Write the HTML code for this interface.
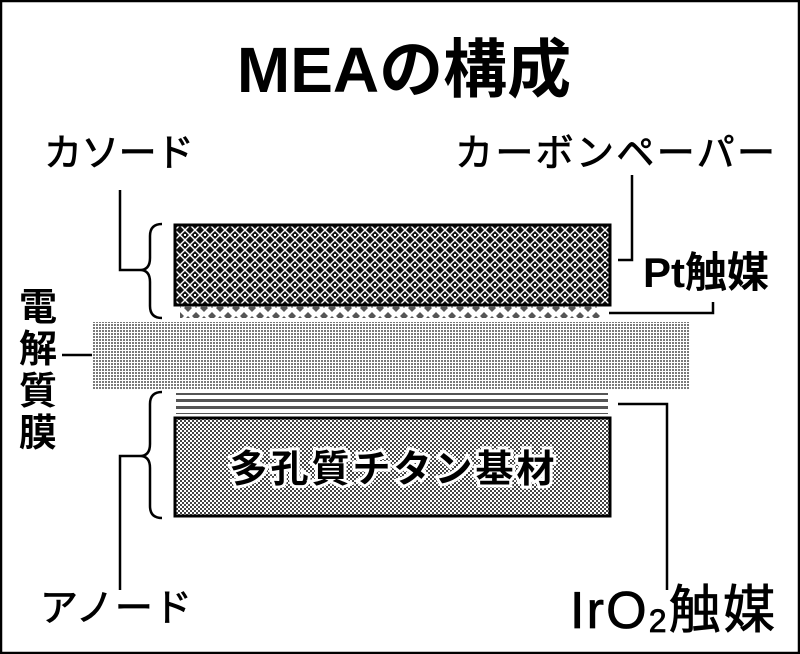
<!DOCTYPE html>
<html><head><meta charset="utf-8"><style>
html,body{margin:0;padding:0;background:#fff}
svg{display:block}
text{font-family:"Liberation Sans","Noto Sans CJK JP",sans-serif}
</style></head><body>
<svg width="800" height="654" viewBox="0 0 800 654" xmlns="http://www.w3.org/2000/svg">
<defs>
<pattern id="cp" width="10" height="10" patternUnits="userSpaceOnUse">
<rect width="10" height="10" fill="#111"/>
<path d="M0 5L5 0L10 5L5 10Z" fill="none" stroke="#fff" stroke-width="1.4"/>
<rect x="4" y="4" width="2" height="2" fill="#fff"/>
</pattern>
<pattern id="mem" width="3" height="3" patternUnits="userSpaceOnUse">
<rect width="3" height="3" fill="#fff"/>
<rect width="2" height="2" fill="#7a7a7a"/>
</pattern>
<pattern id="ti" width="4" height="4" patternUnits="userSpaceOnUse">
<rect width="4" height="4" fill="#fff"/>
<rect width="2" height="2" fill="#444"/><rect x="2" y="2" width="2" height="2" fill="#444"/>
</pattern>
<pattern id="pt" width="16" height="12" patternUnits="userSpaceOnUse">
<path d="M4 0L8 4L4 8L0 4Z M12 4L16 8L12 12L8 8Z" fill="#555"/>
</pattern>
<pattern id="ln" width="4" height="7" patternUnits="userSpaceOnUse">
<rect width="4" height="7" fill="#fff"/>
<rect y="0" width="4" height="3" fill="#555"/>
</pattern>
</defs>
<rect x="1" y="1" width="798" height="652" fill="#fff" stroke="#000" stroke-width="2.5"/>
<text x="404" y="92" font-size="64" font-weight="bold" text-anchor="middle">MEAの構成</text>
<g stroke="#000" stroke-width="0.8">
<text x="44" y="166" font-size="38" textLength="150">カソード</text>
<text x="455" y="166" font-size="38" textLength="320">カーボンペーパー</text>
<text x="40" y="621" font-size="38" textLength="152">アノード</text>
<text x="570" y="628" font-size="52" textLength="205">IrO<tspan font-size="32" dy="4">2</tspan><tspan dy="-4">触媒</tspan></text>
</g>
<text x="643" y="287" font-size="42" font-weight="bold">Pt触媒</text>
<g font-size="38" font-weight="bold" text-anchor="middle">
<text x="38" y="320">電</text><text x="38" y="362">解</text><text x="38" y="404">質</text><text x="38" y="446">膜</text>
</g>
<rect x="175" y="225" width="435" height="80" fill="url(#cp)" stroke="#000" stroke-width="3"/>
<rect x="180" y="306" width="420" height="12" fill="url(#pt)"/>
<rect x="92" y="322" width="597" height="68" fill="url(#mem)"/>
<rect x="176" y="393" width="432" height="21" fill="url(#ln)"/>
<rect x="175" y="418" width="435" height="98" fill="url(#ti)" stroke="#000" stroke-width="3"/>
<text x="392" y="482" font-size="38" font-weight="bold" text-anchor="middle" stroke="#fff" stroke-width="6" paint-order="stroke" textLength="325">多孔質チタン基材</text>
<g fill="none" stroke="#000" stroke-width="2.5">
<path d="M162 224Q150 224 150 236V258Q150 270 140 270Q150 270 150 282V306Q150 318 162 318"/>
<path d="M140 270H120V190"/>
<path d="M162 392Q150 392 150 404V444Q150 456 140 456Q150 456 150 468V506Q150 518 162 518"/>
<path d="M140 456H120V590"/>
<path d="M632 175V260H618"/>
<path d="M609 313H713V302"/>
<path d="M618 404H667V590"/>
<path d="M62 355H92"/>
</g>
</svg>
</body></html>
